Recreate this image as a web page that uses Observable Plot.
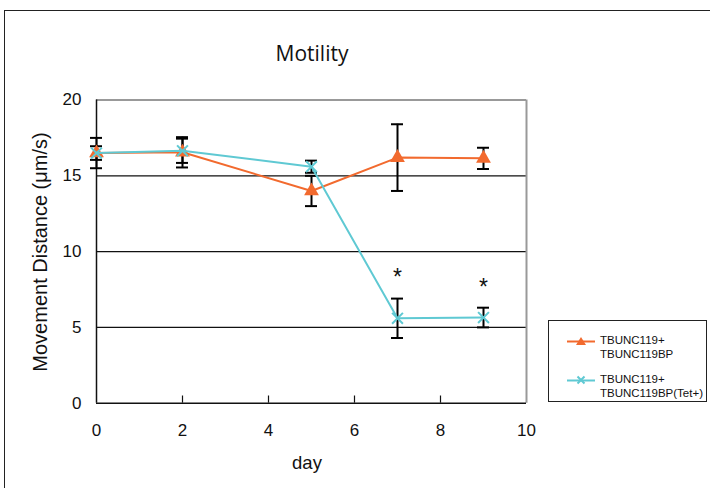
<!DOCTYPE html>
<html>
<head>
<meta charset="utf-8">
<script src="https://cdn.jsdelivr.net/npm/d3@7"></script>
<script src="https://cdn.jsdelivr.net/npm/@observablehq/plot@0.6"></script>
<style>
  html, body { margin: 0; padding: 0; background: #fff; overflow: hidden; }
  body { width: 710px; height: 488px; position: relative; font-family: "Liberation Sans", Arial, sans-serif; }
  #frame { position: absolute; left: 4px; top: 10px; width: 900px; height: 700px; border: 1.5px solid #222; box-sizing: border-box; }
  #chart { position: absolute; left: 0; top: 0; }
  .lbl { position: absolute; color: #111; white-space: nowrap; }
  #title { left: 0; width: 624px; text-align: center; top: 39px; font-size: 21px; font-family: "Open Sans", "DejaVu Sans", sans-serif; }
  #xlabel { left: 92px; width: 430px; text-align: center; top: 452px; font-size: 18.5px; }
  #ylabel { left: 40px; top: 252px; font-size: 20px; transform: translate(-50%, -50%) rotate(-90deg); }
  #legend { position: absolute; left: 548px; top: 320px; width: 159px; height: 82px; border: 1.5px solid #222; box-sizing: border-box; background: #fff; font-size: 11.5px; color: #111; }
  .item { position: absolute; left: 18px; display: flex; align-items: flex-start; }
  .item svg { margin-top: 1px; }
  .item div { margin-left: 5px; line-height: 14px; }
</style>
</head>
<body>
<div id="frame"></div>
<div id="chart"></div>
<div id="title" class="lbl">Motility</div>
<div id="xlabel" class="lbl">day</div>
<div id="ylabel" class="lbl">Movement Distance (μm/s)</div>
<div id="legend"></div>
<script>
// ---- data ----
const days = [0, 2, 5, 7, 9];
const ctrlMean = [16.5, 16.55, 14.0, 16.2, 16.15];
const ctrlErr  = [1.0, 1.0, 1.0, 2.2, 0.7];
const tetMean  = [16.5, 16.65, 15.6, 5.6, 5.65];
const tetErr   = [0.45, 0.8, 0.4, 1.3, 0.65];
const signifDays = [7, 9];
const signifY = [8.5, 7.8];
const xTicks = [0, 2, 4, 6, 8, 10];
const yTicks = [0, 5, 10, 15, 20];
const gridY = [5, 10, 15];
const seriesNames = ["TBUNC119+\nTBUNC119BP", "TBUNC119+\nTBUNC119BP(Tet+)"];

const ORANGE = "#F26A2E";
const CYAN = "#5FC9D3";

const ctrl = days.map((d, i) => ({day: d, mean: ctrlMean[i], err: ctrlErr[i]}));
const tet = days.map((d, i) => ({day: d, mean: tetMean[i], err: tetErr[i]}));
const stars = signifDays.map((d, i) => ({day: d, y: signifY[i]}));
const capHalf = 0.14;

function errorMarks(data) {
  return [
    Plot.ruleX(data, {x: "day", y1: d => d.mean - d.err, y2: d => d.mean + d.err, stroke: "#000", strokeWidth: 2}),
    Plot.ruleY(data, {y: d => d.mean + d.err, x1: d => d.day - capHalf, x2: d => d.day + capHalf, stroke: "#000", strokeWidth: 2}),
    Plot.ruleY(data, {y: d => d.mean - d.err, x1: d => d.day - capHalf, x2: d => d.day + capHalf, stroke: "#000", strokeWidth: 2})
  ];
}

const plot = Plot.plot({
  width: 710,
  height: 488,
  marginLeft: 96,
  marginRight: 184,
  marginTop: 99.5,
  marginBottom: 85.3,
  style: {fontFamily: "Liberation Sans, Arial, sans-serif", fontSize: "17px", color: "#111", background: "transparent"},
  x: {domain: [0, 10], ticks: xTicks},
  y: {domain: [0, 20], ticks: yTicks},
  marks: [
    Plot.ruleY(gridY, {stroke: "#111", strokeWidth: 1.3}),
    Plot.ruleY([20], {stroke: "#999", strokeWidth: 2}),
    Plot.ruleX([10], {stroke: "#999", strokeWidth: 2}),
    Plot.ruleX([0], {stroke: "#111", strokeWidth: 1.5}),
    Plot.ruleY([0], {stroke: "#111", strokeWidth: 1.5}),
    Plot.ruleX(xTicks.filter(t => t > 0 && t < 10), {stroke: "#111", strokeWidth: 1.2, insetTop: 296}),
    Plot.axisX({ticks: xTicks, tickSize: 0, tickPadding: 21, label: null, fontSize: 17}),
    Plot.axisY({ticks: yTicks, tickSize: 0, tickPadding: 15, label: null, fontSize: 17}),
    ...errorMarks(ctrl),
    ...errorMarks(tet),
    Plot.line(ctrl, {x: "day", y: "mean", stroke: ORANGE, strokeWidth: 2}),
    Plot.dot(ctrl, {x: "day", y: "mean", symbol: "triangle", fill: ORANGE, r: 5.5}),
    Plot.line(tet, {x: "day", y: "mean", stroke: CYAN, strokeWidth: 2}),
    Plot.dot(tet, {x: "day", y: "mean", symbol: "times", stroke: CYAN, strokeWidth: 2, r: 5}),
    Plot.text(stars, {x: "day", y: "y", text: () => "*", fontSize: 23, fill: "#111", dy: 3})
  ]
});
document.getElementById("chart").appendChild(plot);

// legend
const legend = document.getElementById("legend");
const items = [
  {name: seriesNames[0], color: ORANGE, sym: "triangle", top: 12},
  {name: seriesNames[1], color: CYAN, sym: "times", top: 51}
];
for (const it of items) {
  const el = document.createElement("div");
  el.className = "item";
  el.style.top = it.top + "px";
  const marker = it.sym === "triangle"
    ? `<path d="M14,3 L19,11 L9,11 Z" fill="${it.color}"/>`
    : `<path d="M10.5,3.5 L17.5,10.5 M17.5,3.5 L10.5,10.5" stroke="${it.color}" stroke-width="2"/>`;
  el.innerHTML = `<svg width="28" height="14"><line x1="0" y1="7.5" x2="28" y2="7.5" stroke="${it.color}" stroke-width="2"/>${marker}</svg>` +
    `<div>${it.name.replace("\n", "<br>")}</div>`;
  legend.appendChild(el);
}
</script>
</body>
</html>
